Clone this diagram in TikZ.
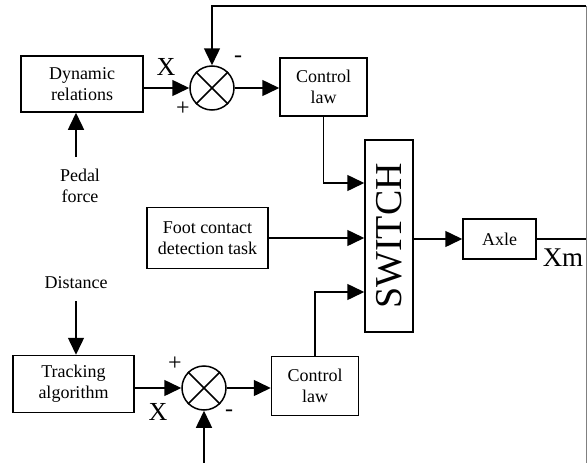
\documentclass[tikz,border=0pt]{standalone}
\usepackage{fontspec}
\setmainfont{Liberation Serif}
\usetikzlibrary{arrows.meta,positioning}

\tikzset{
	blk/.style={draw, line width=1.5pt, align=center, inner sep=0pt, font=\fontsize{18}{21}\selectfont},
	sumnode/.style={draw, circle, line width=1.5pt, minimum size=44pt, inner sep=0pt},
	lbl/.style={font=\fontsize{18}{21}\selectfont, align=center},
	sgn/.style={font=\fontsize{24}{24}\selectfont, inner sep=0pt},
	>={Triangle[length=17pt,width=16pt]}
}

\begin{document}
\begin{tikzpicture}[x=1pt, y=-1pt, line width=1.5pt]
\useasboundingbox (0,0) rectangle (587,463);

		\node[blk, minimum width=122pt, minimum height=56pt] (dyn) at (82,84) {Dynamic\\relations};
		\node[sumnode] (sum1) at (212,88) {};
		\node[blk, minimum width=87pt, minimum height=58pt] (cl1) at (323.5,87) {Control\\law};
		\node[lbl] (pedal) at (80,186) {Pedal\\force};

		\node[blk, minimum width=121pt, minimum height=61pt] (foot) at (207.5,238) {Foot contact\\detection task};
		\node[blk, minimum width=48pt, minimum height=192pt] (sw) at (389,236) {};
		\node[font=\fontsize{38}{38}\selectfont, rotate=90] (swtxt) at (sw.center) {SWITCH};
		\node[blk, minimum width=73pt, minimum height=40pt] (axle) at (499.5,239) {Axle};
		\coordinate (xout) at (586,239);
		\node[sgn, font=\fontsize{27}{27}\selectfont] (xm) at (563,258) {Xm};

		\node[lbl] (dist) at (76,283) {Distance};
		\node[blk, minimum width=121pt, minimum height=57pt] (trk) at (73.5,384) {Tracking\\algorithm};
		\node[sumnode] (sum2) at (204,388) {};
		\node[blk, minimum width=87pt, minimum height=59pt] (cl2) at (315,386) {Control\\law};

		\coordinate (fbtop) at (586,6);
		\coordinate (fbbot) at (586,463);
		\coordinate (fbin) at (204,463);

		\node[sgn, font=\fontsize{26}{26}\selectfont] (x1) at (166,67) {X};
		\node[sgn] (p1) at (183,109) {+};
		\node[sgn] (m1) at (238,59) {-};
		\node[sgn] (p2) at (175,364) {+};
		\node[sgn, font=\fontsize{26}{26}\selectfont] (x2) at (158,412) {X};
		\node[sgn] (m2) at (229,413) {-};

		\draw (sum1.north west) -- (sum1.south east);
		\draw (sum1.north east) -- (sum1.south west);
		\draw (sum2.north west) -- (sum2.south east);
		\draw (sum2.north east) -- (sum2.south west);

		\draw[->] (dyn.east |- sum1.west) -- (sum1.west);
		\draw[->] (sum1.east) -- (sum1.east -| cl1.west);
		\draw[->] ([xshift=-4pt,yshift=8pt]pedal.north) -- ([xshift=-4pt]pedal.north |- dyn.south);
		\draw[->] (cl1.south) |- ([yshift=53pt]sw.west);
		\draw[->] (foot.east) -- (foot.east -| sw.west);
		\draw[->] (sw.east |- axle.west) -- (axle.west);
		\draw (axle.east) -- (xout);

		\draw[->] ([yshift=-8pt]dist.south) -- (dist.south |- trk.north);
		\draw[->] (trk.east |- sum2.west) -- (sum2.west);
		\draw[->] (sum2.east) -- (sum2.east -| cl2.west);
		\draw[->] (cl2.north) |- ([yshift=-56pt]sw.west);

		\draw[->] (fbtop) -| (sum1.north);
		\draw[gray, line width=1pt] (fbtop) -- (fbbot);
		\draw[->] (fbin) -- (sum2.south);
\end{tikzpicture}
\end{document}
